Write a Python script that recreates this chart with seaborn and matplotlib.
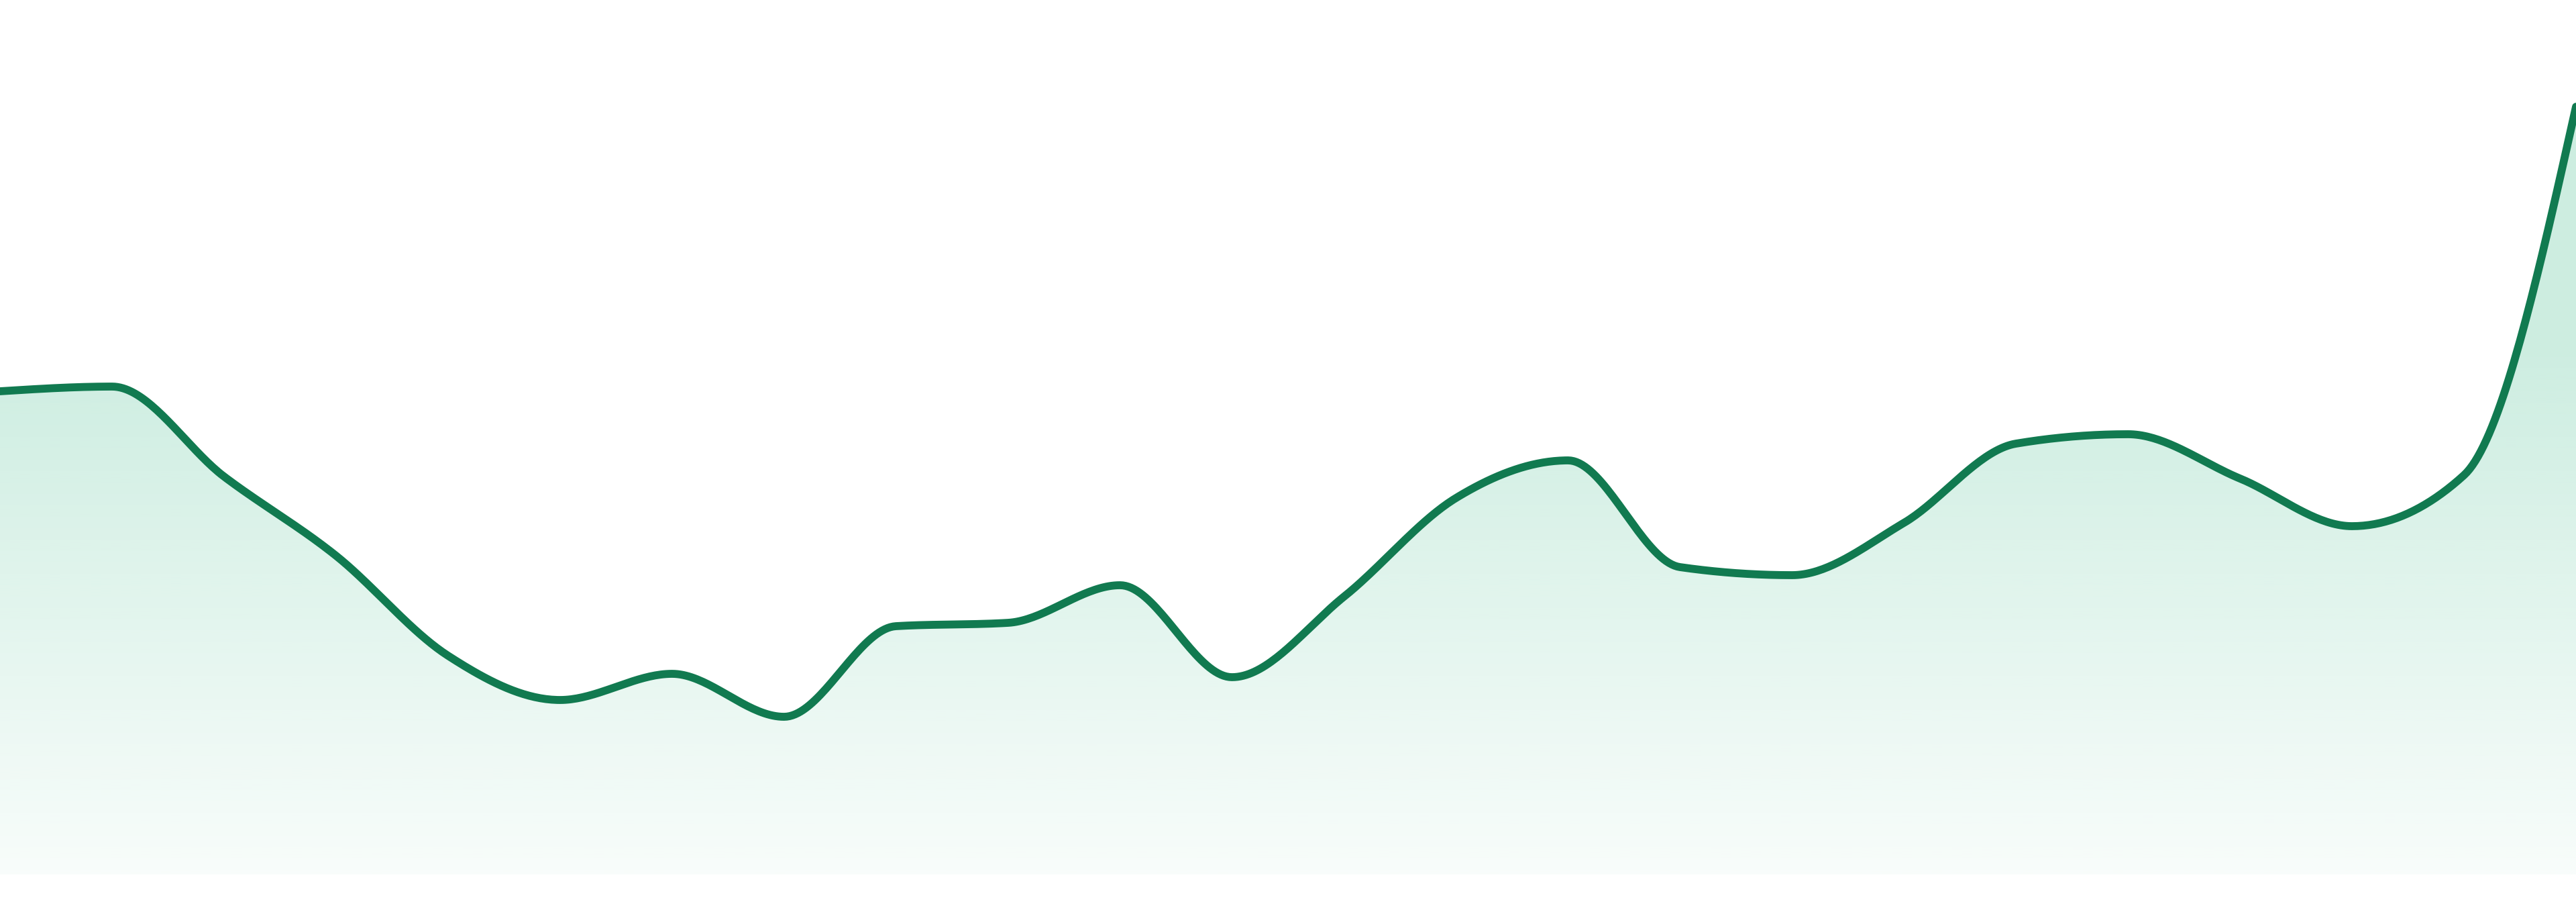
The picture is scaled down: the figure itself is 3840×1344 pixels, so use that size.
import numpy as np
import pandas as pd
import seaborn as sns
import matplotlib.pyplot as plt

# Values (height above baseline, pixel-like units)
points = list(range(24))
values = [720, 727, 593, 475, 326, 260, 299, 235, 370, 375, 431, 294,
          414, 561, 617, 458, 446, 524, 642, 656, 590, 519, 595, 1144]

line_color = "#117a50"
fill_rgb = np.array([16, 170, 110]) / 255


def monotone_x(x, y, n=40):
    # same shape as d3.curveMonotoneX
    x = np.asarray(x, float)
    y = np.asarray(y, float)
    h = np.diff(x)
    s = np.diff(y) / h
    t = np.zeros_like(y)
    for i in range(1, len(y) - 1):
        p = (s[i - 1] * h[i] + s[i] * h[i - 1]) / (h[i - 1] + h[i])
        t[i] = (np.sign(s[i - 1]) + np.sign(s[i])) * min(abs(s[i - 1]), abs(s[i]), 0.5 * abs(p))
    t[0] = (3 * s[0] - t[1]) / 2
    t[-1] = (3 * s[-1] - t[-2]) / 2
    xs, ys = [], []
    for i in range(len(h)):
        u = np.linspace(0, 1, n, endpoint=False)
        h00 = 2 * u**3 - 3 * u**2 + 1
        h10 = u**3 - 2 * u**2 + u
        h01 = -2 * u**3 + 3 * u**2
        h11 = u**3 - u**2
        xs.append(x[i] + u * h[i])
        ys.append(h00 * y[i] + h10 * h[i] * t[i] + h01 * y[i + 1] + h11 * h[i] * t[i + 1])
    xs.append([x[-1]])
    ys.append([y[-1]])
    return np.concatenate(xs), np.concatenate(ys)


sx, sy = monotone_x(points, values)
curve = pd.DataFrame({"x": sx, "y": sy})

sns.set_style("white")
fig = plt.figure(figsize=(38.4, 13.44), dpi=100)
ax = fig.add_axes([0, 0.0305, 1, 0.9695])

# gradient area under the curve: solid-ish up top, fading towards the baseline
top = max(values)
levels = np.linspace(top, 0, 512)
alphas = np.interp(levels, [0, 780, top], [0.03, 0.21, 0.21])
grad_rgba = np.zeros((512, 1, 4))
grad_rgba[:, 0, :3] = fill_rgb
grad_rgba[:, 0, 3] = alphas
poly = ax.fill_between(curve["x"], curve["y"], 0, color="none", lw=0)
img = ax.imshow(grad_rgba, extent=[0, 23, 0, top], origin="upper",
                aspect="auto", interpolation="bilinear", zorder=1)
img.set_clip_path(poly.get_paths()[0], transform=ax.transData)

sns.lineplot(data=curve, x="x", y="y", ax=ax, color=line_color,
             linewidth=8.5, sort=False, estimator=None, zorder=3)

ax.set_xlim(0, 23)
ax.set_ylim(0, 1303)
ax.axis("off")

fig.savefig("out.png", dpi=100, facecolor="white")
